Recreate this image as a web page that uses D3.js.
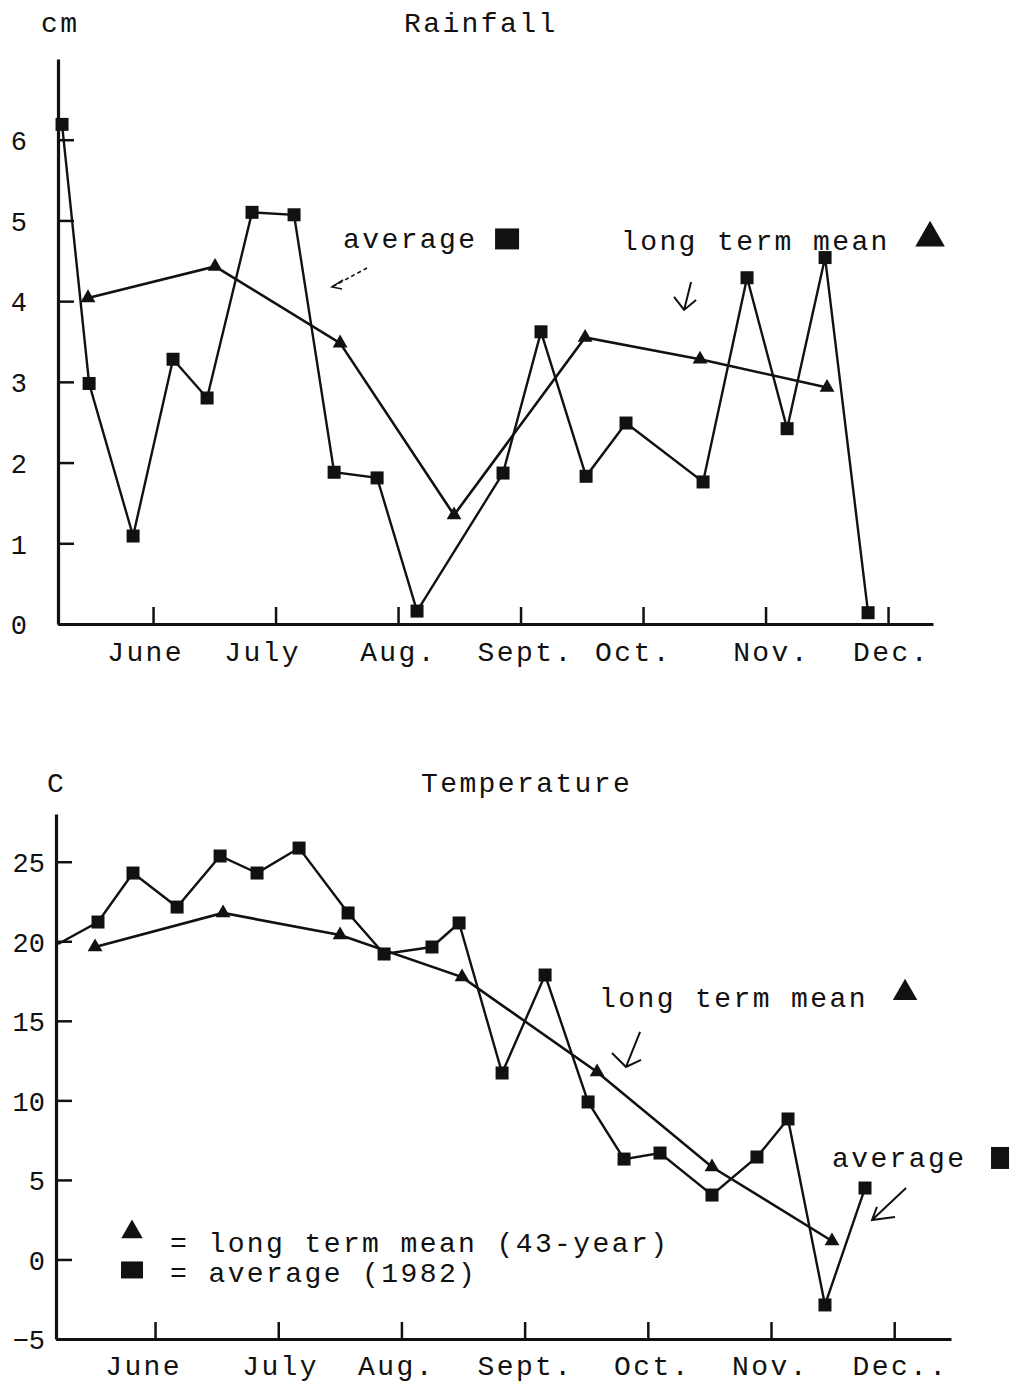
<!DOCTYPE html>
<html>
<head>
<meta charset="utf-8">
<script src="https://cdn.jsdelivr.net/npm/d3@7"></script>
<style>
  html, body { margin: 0; padding: 0; background: #fff; }
  svg { display: block; }
  text { font-family: "Liberation Mono", "DejaVu Sans Mono", monospace; fill: #111; }
</style>
</head>
<body>
<div id="chart"></div>
<script>
// month positions: 1..7 = tick marks on the time axis (fractional months)
const monthTicks = [1, 2, 3, 4, 5, 6, 7];

const rainMonths = ["June", "July", "Aug.", "Sept.", "Oct.", "Nov.", "Dec."];
const rainMonthPos = [0.935, 1.89, 3.0, 4.037, 4.918, 6.045, 7.024];
const rainTicks = [0, 1, 2, 3, 4, 5, 6];

// 1982 average rainfall (cm), squares
const rainAvgX = [0.257, 0.478, 0.837, 1.163, 1.441, 1.808, 2.151, 2.478, 2.829, 3.155, 3.857, 4.167, 4.535, 4.861, 5.49, 5.849, 6.176, 6.486, 6.837];
const rainAvgY = [6.19, 2.98, 1.09, 3.28, 2.8, 5.1, 5.07, 1.88, 1.81, 0.16, 1.87, 3.62, 1.83, 2.49, 1.76, 4.29, 2.42, 4.54, 0.14];
// long term mean rainfall (cm), triangles
const rainMeanX = [0.469, 1.506, 2.527, 3.457, 4.527, 5.465, 6.502];
const rainMeanY = [4.04, 4.43, 3.48, 1.35, 3.55, 3.28, 2.93];

const tempMonths = ["June", "July", "Aug.", "Sept.", "Oct.", "Nov.", "Dec.."];
const tempMonthPos = [0.903, 2.015, 2.956, 4.003, 5.034, 5.992, 7.047];
const tempTicks = [-5, 0, 5, 10, 15, 20, 25];

// 1982 average temperature (C), squares
const tempAvgX = [0.213, 0.537, 0.821, 1.179, 1.528, 1.828, 2.169, 2.567, 2.859, 3.248, 3.468, 3.817, 4.166, 4.515, 4.807, 5.099, 5.521, 5.886, 6.138, 6.438, 6.763];
const tempAvgY = [19.83, 21.21, 24.29, 22.15, 25.36, 24.29, 25.86, 21.78, 19.2, 19.64, 21.15, 11.72, 17.88, 9.9, 6.31, 6.69, 4.05, 6.44, 8.83, -2.86, 4.49];
// long term mean temperature (C), triangles
const tempMeanX = [0.513, 1.552, 2.502, 3.492, 4.588, 5.521, 6.495];
const tempMeanY = [19.64, 21.78, 20.39, 17.75, 11.78, 5.81, 1.16];

const W = 1016, H = 1385;
const INK = "#111";
const FS = 28, LS = 2.4;

const svg = d3.select("#chart").append("svg").attr("width", W).attr("height", H).attr("viewBox", `0 0 ${W} ${H}`);

function label(g, x, y, str) {
  return g.append("text").attr("x", x).attr("y", y).attr("font-size", FS).attr("letter-spacing", LS).text(str);
}

function square(g, cx, cy, w, h) {
  g.append("rect").attr("x", cx - w / 2).attr("y", cy - h / 2).attr("width", w).attr("height", h).attr("fill", INK);
}

function triangle(g, cx, cy, size) {
  g.append("path").attr("d", d3.symbol(d3.symbolTriangle, size)()).attr("transform", `translate(${cx},${cy})`).attr("fill", INK);
}

function drawPanel(o) {
  const g = svg.append("g");
  const x = d3.scaleLinear().domain(o.xDomain).range(o.xRange);
  const y = d3.scaleLinear().domain(o.yDomain).range(o.yRange);
  const baseY = o.yRange[0];

  // x axis with tick marks pointing up
  const xa = g.append("g").attr("transform", `translate(0,${baseY})`)
    .call(d3.axisBottom(x).tickValues(monthTicks).tickSizeInner(-17).tickSizeOuter(0).tickFormat(""));
  xa.select(".domain").attr("stroke", INK).attr("stroke-width", 3.2);
  xa.selectAll(".tick line").attr("stroke", INK).attr("stroke-width", 2.5);

  // month labels
  const ml = g.append("g").attr("transform", `translate(0,${baseY})`)
    .call(d3.axisBottom(x).tickValues(o.monthPos).tickSize(0).tickPadding(o.monthPad).tickFormat((d, i) => o.months[i]));
  ml.select(".domain").remove();
  ml.selectAll("text").attr("font-size", FS).attr("letter-spacing", LS).attr("font-family", null);

  // y axis with tick marks pointing right
  const ya = g.append("g").attr("transform", `translate(${o.xRange[0]},0)`)
    .call(d3.axisLeft(y).tickValues(o.yTicks).tickFormat(d3.format("d")).tickSizeInner(-16).tickSizeOuter(0).tickPadding(o.yPad));
  ya.select(".domain").attr("stroke", INK).attr("stroke-width", 3.2);
  ya.selectAll(".tick line").attr("stroke", INK).attr("stroke-width", 2.5);
  ya.selectAll("text").attr("font-size", 27).attr("font-family", null).attr("dy", "0.36em");

  const line = d3.line().x((d) => x(d[0])).y((d) => y(d[1]));

  const mean = d3.zip(o.meanX, o.meanY);
  const avg = d3.zip(o.avgX, o.avgY);

  g.append("path").attr("d", line(mean)).attr("fill", "none").attr("stroke", INK).attr("stroke-width", 2.6);
  g.append("path").attr("d", line(avg)).attr("fill", "none").attr("stroke", INK).attr("stroke-width", 2.4);

  avg.forEach((d, i) => {
    if (o.skipFirst && i === 0) return;
    square(g, x(d[0]), y(d[1]), 13, 13);
  });
  mean.forEach((d) => triangle(g, x(d[0]), y(d[1]), 95));

  o.extra(g, x, y);
}

// ---------- Rainfall ----------
label(svg, 41, 32, "cm");
label(svg, 404, 32, "Rainfall");

drawPanel({
  xDomain: [0.224, 7.367], xRange: [58, 933],
  yDomain: [0, 7], yRange: [624, 59],
  yTicks: rainTicks, yPad: 31,
  months: rainMonths, monthPos: rainMonthPos, monthPad: 17,
  avgX: rainAvgX, avgY: rainAvgY, meanX: rainMeanX, meanY: rainMeanY,
  skipFirst: false,
  extra: (g, x, y) => {
    label(g, x(2.551), y(4.659), "average");
    square(g, x(3.89), y(4.771), 24, 21);
    label(g, x(4.82), y(4.634), "long term mean");
    triangle(g, x(7.343), y(4.783), 380);
    // dashed arrow towards the average line
    g.append("path")
      .attr("d", `M${x(2.747)},${y(4.411)}L${x(2.461)},${y(4.176)}`)
      .attr("stroke", INK).attr("stroke-width", 1.6).attr("stroke-dasharray", "4 3").attr("fill", "none");
    g.append("path")
      .attr("d", `M${x(2.551)},${y(4.263)}L${x(2.461)},${y(4.176)}L${x(2.543)},${y(4.151)}`)
      .attr("stroke", INK).attr("stroke-width", 1.6).attr("fill", "none");
    // hand drawn arrow towards the long term mean line
    g.append("path")
      .attr("d", `M${x(5.392)},${y(4.238)}L${x(5.335)},${y(3.891)}M${x(5.253)},${y(4.052)}L${x(5.335)},${y(3.891)}L${x(5.433)},${y(4.015)}`)
      .attr("stroke", INK).attr("stroke-width", 2).attr("fill", "none");
  },
});

// ---------- Temperature ----------
label(svg, 47, 792, "C");
label(svg, 421, 792, "Temperature");

drawPanel({
  xDomain: [0.196, 7.461], xRange: [56, 951],
  yDomain: [-5, 28], yRange: [1339, 814],
  yTicks: tempTicks, yPad: 11,
  months: tempMonths, monthPos: tempMonthPos, monthPad: 16,
  avgX: tempAvgX, avgY: tempAvgY, meanX: tempMeanX, meanY: tempMeanY,
  skipFirst: true,
  extra: (g, x, y) => {
    label(g, x(4.604), y(15.87), "long term mean");
    triangle(g, x(7.088), y(16.75), 260);
    g.append("path")
      .attr("d", `M${x(4.937)},${y(14.3)}L${x(4.823)},${y(12.1)}M${x(4.709)},${y(12.98)}L${x(4.823)},${y(12.1)}L${x(4.945)},${y(12.54)}`)
      .attr("stroke", INK).attr("stroke-width", 2).attr("fill", "none");

    label(g, x(6.495), y(5.81), "average");
    square(g, x(7.859), y(6.38), 18, 22);
    g.append("path")
      .attr("d", `M${x(7.096)},${y(4.49)}L${x(6.82)},${y(2.48)}M${x(6.86)},${y(3.3)}L${x(6.82)},${y(2.48)}L${x(7.006)},${y(2.67)}`)
      .attr("stroke", INK).attr("stroke-width", 2).attr("fill", "none");

    // legend
    triangle(g, x(0.813), y(1.73), 200);
    label(g, x(1.122), y(0.47), "= long term mean (43-year)");
    square(g, x(0.813), y(-0.66), 22, 17);
    label(g, x(1.122), y(-1.42), "= average (1982)");
  },
});
</script>
</body>
</html>
